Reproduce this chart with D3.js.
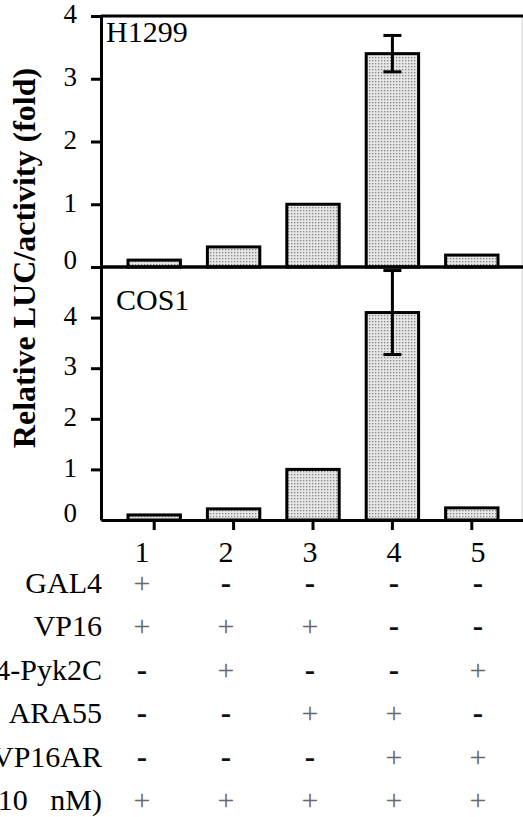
<!DOCTYPE html>
<html lang="en">
  <head>
    <meta charset="utf-8">
    <title>Relative LUC activity</title>
    <style>
      body { margin: 0; background: #fff; }
      svg { display: block; }
      text { font-family: "Liberation Serif", "Times New Roman", serif; }
    </style>
  </head>
  <body>
    <div id="chart"></div>
  </body>
  <script src="https://cdn.jsdelivr.net/npm/d3@7"></script>
  <script type="text/javascript">
    // data
    var lanes = ["1", "2", "3", "4", "5"];
    var h1299 = [0.11, 0.32, 1.0, 3.4, 0.19];
    var h1299Err = [0, 0, 0, 0.29, 0];
    var cos1 = [0.1, 0.22, 1.0, 4.1, 0.24];
    var cos1Err = [0, 0, 0, 0.83, 0];
    var topTicks = [0, 1, 2, 3, 4];
    var bottomTicks = [0, 1, 2, 3, 4];
    var rowLabels = ["GAL4", "VP16", "GAL4-Pyk2C", "ARA55", "VP16AR", "DHT (10   nM)"];
    var signs = [
      ["+", "-", "-", "-", "-"],
      ["+", "+", "+", "-", "-"],
      ["-", "+", "-", "-", "+"],
      ["-", "-", "+", "+", "-"],
      ["-", "-", "-", "+", "+"],
      ["+", "+", "+", "+", "+"]
    ];

    var width = 523;
    var height = 817;
    var axisX = 101;

    var svg = d3.select("#chart")
      .append("svg")
      .attr("width", width)
      .attr("height", height);

    // dotted fill of the bars
    var pat = svg.append("defs").append("pattern")
      .attr("id", "dots")
      .attr("patternUnits", "userSpaceOnUse")
      .attr("width", 3)
      .attr("height", 3);
    pat.append("rect").attr("width", 3).attr("height", 3).attr("fill", "#e6e6e6");
    pat.append("rect").attr("width", 1.3).attr("height", 1.3).attr("fill", "#858585");

    var x = d3.scaleBand()
      .domain(lanes)
      .range([axisX, 525])
      .padding(0.34);

    var yTop = d3.scaleLinear().domain([0, 4]).range([267, 16]);
    var yBot = d3.scaleLinear().domain([0, 5]).range([520, 267]);

    // right frame edge (faint)
    svg.append("line")
      .attr("x1", 522).attr("x2", 522)
      .attr("y1", yTop(4)).attr("y2", yBot(0))
      .attr("stroke", "#d0d0d0")
      .attr("stroke-width", 1);

    function panel(y, vals, errs, ticks, label, lx, ly) {
      var g = svg.append("g");

      g.selectAll("rect")
        .data(vals)
        .enter()
        .append("rect")
        .attr("x", function(d, i) { return x(lanes[i]); })
        .attr("y", function(d) { return y(d); })
        .attr("width", x.bandwidth())
        .attr("height", function(d) { return y(0) - y(d); })
        .attr("fill", "url(#dots)")
        .attr("stroke", "#000")
        .attr("stroke-width", 3);

      var eb = g.selectAll("g.err")
        .data(vals.map(function(d, i) { return { v: d, e: errs[i], k: lanes[i] }; })
          .filter(function(d) { return d.e > 0; }))
        .enter()
        .append("g")
        .attr("class", "err");
      eb.append("line")
        .attr("x1", function(d) { return x(d.k) + x.bandwidth() / 2; })
        .attr("x2", function(d) { return x(d.k) + x.bandwidth() / 2; })
        .attr("y1", function(d) { return y(d.v - d.e); })
        .attr("y2", function(d) { return y(d.v + d.e); })
        .attr("stroke", "#000").attr("stroke-width", 3);
      eb.selectAll("line.cap")
        .data(function(d) { return [[d.k, d.v - d.e], [d.k, d.v + d.e]]; })
        .enter()
        .append("line")
        .attr("class", "cap")
        .attr("x1", function(d) { return x(d[0]) + x.bandwidth() / 2 - 9; })
        .attr("x2", function(d) { return x(d[0]) + x.bandwidth() / 2 + 9; })
        .attr("y1", function(d) { return y(d[1]); })
        .attr("y2", function(d) { return y(d[1]); })
        .attr("stroke", "#000").attr("stroke-width", 3);

      var ax = g.append("g")
        .attr("transform", "translate(" + axisX + ",0)")
        .call(d3.axisLeft(y).tickValues(ticks).tickSize(10).tickSizeOuter(0)
          .tickPadding(14).tickFormat(d3.format("d")));
      ax.selectAll("path, line").attr("stroke", "#000").attr("stroke-width", 3);
      ax.selectAll("text")
        .attr("font-size", 27)
        .attr("fill", "#000")
        .attr("dy", function(d) { return d === 0 ? "0.05em" : "0.25em"; });

      g.append("text")
        .attr("x", lx)
        .attr("y", ly)
        .attr("font-size", 30)
        .attr("fill", "#000")
        .text(label);
      return ax;
    }

    var axTop = panel(yTop, h1299, h1299Err, topTicks, "H1299", 106, 42);
    var axBot = panel(yBot, cos1, cos1Err, bottomTicks, "COS1", 116, 310);
    // no tick mark at zero in the lower panel
    axBot.selectAll(".tick").filter(function(d) { return d === 0; }).select("line").remove();

    // top frame line and top panel baseline
    svg.append("line")
      .attr("x1", axisX).attr("x2", width)
      .attr("y1", yTop(4)).attr("y2", yTop(4))
      .attr("stroke", "#000").attr("stroke-width", 3);
    svg.append("line")
      .attr("x1", axisX).attr("x2", width)
      .attr("y1", yTop(0)).attr("y2", yTop(0))
      .attr("stroke", "#000").attr("stroke-width", 3.5);

    // bottom axis
    var bx = svg.append("g")
      .attr("transform", "translate(0," + yBot(0) + ")")
      .call(d3.axisBottom(x).tickSize(10).tickSizeOuter(0));
    bx.selectAll("path, line").attr("stroke", "#000").attr("stroke-width", 3);
    bx.selectAll("text").remove();

    // y label
    svg.append("text")
      .attr("transform", "translate(35,258) rotate(-90)")
      .attr("text-anchor", "middle")
      .attr("font-size", 32)
      .attr("font-weight", "bold")
      .attr("fill", "#000")
      .text("Relative LUC/activity (fold)");

    // table under the chart
    var col = d3.scalePoint().domain(lanes).range([142, 478]);
    var row = d3.scalePoint().domain(rowLabels).range([593, 810]);

    svg.append("g").selectAll("text")
      .data(lanes)
      .enter()
      .append("text")
      .attr("x", function(d) { return col(d); })
      .attr("y", 562)
      .attr("text-anchor", "middle")
      .attr("font-size", 30)
      .attr("fill", "#000")
      .text(function(d) { return d; });

    svg.append("g").selectAll("text")
      .data(rowLabels)
      .enter()
      .append("text")
      .attr("x", 102)
      .attr("y", function(d) { return row(d); })
      .attr("text-anchor", "end")
      .attr("font-size", 30)
      .attr("fill", "#000")
      .style("white-space", "pre")
      .text(function(d) { return d; });

    var cells = [];
    signs.forEach(function(r, i) {
      r.forEach(function(s, j) { cells.push({ r: rowLabels[i], c: lanes[j], s: s }); });
    });
    svg.append("g").selectAll("text")
      .data(cells)
      .enter()
      .append("text")
      .attr("x", function(d) { return col(d.c); })
      .attr("y", function(d) { return row(d.r); })
      .attr("text-anchor", "middle")
      .attr("font-size", function(d) { return d.s === "+" ? 30 : 31; })
      .attr("font-weight", function(d) { return d.s === "+" ? "normal" : "bold"; })
      .attr("fill", function(d) { return d.s === "+" ? "#6a6a6a" : "#111"; })
      .text(function(d) { return d.s; });
  </script>
</html>
